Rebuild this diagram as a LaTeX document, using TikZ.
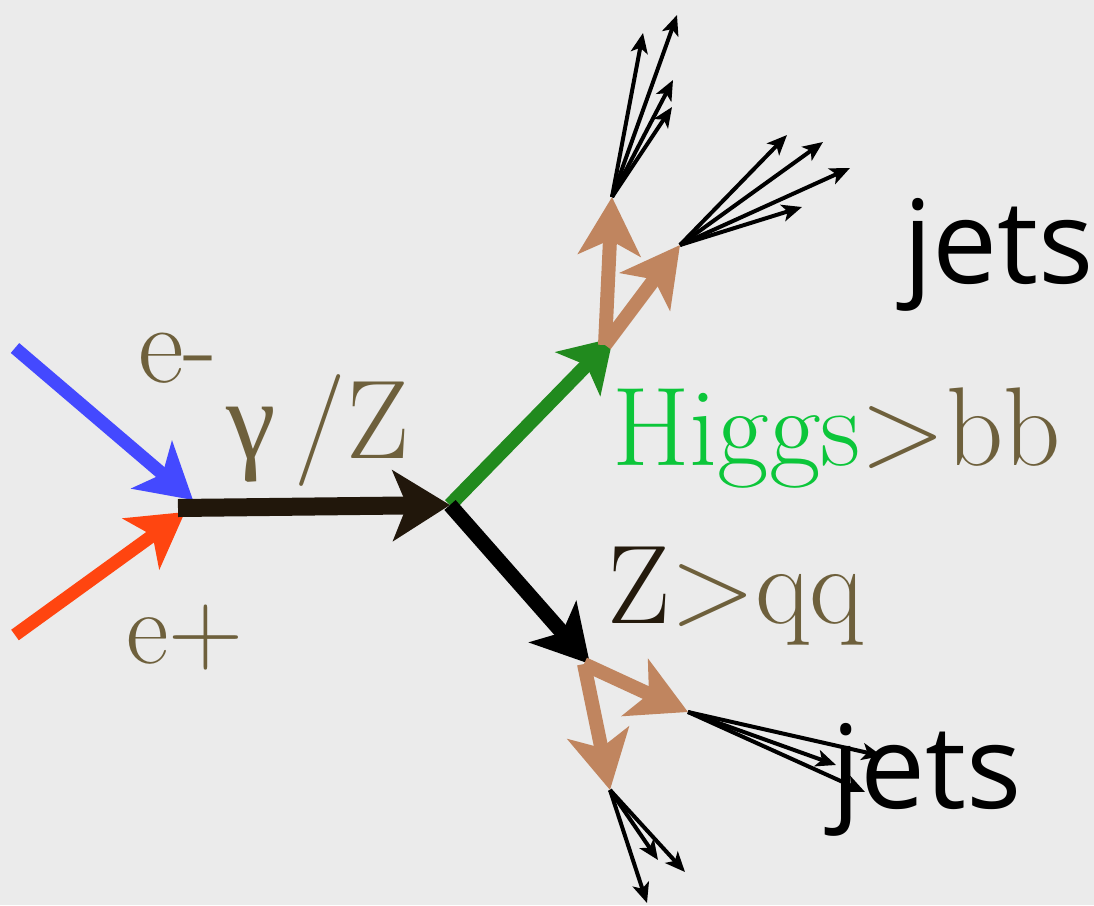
\documentclass[tikz,border=0pt]{standalone}
\usepackage{fontspec}
\usetikzlibrary{arrows.meta,calc}
\newfontfamily\greekfont{Liberation Serif}
\newfontfamily\handfont{Open Sans}
\definecolor{bgc}{RGB}{235,235,235}
\definecolor{olive}{RGB}{110,96,60}
\definecolor{zdark}{RGB}{36,26,12}
\definecolor{higgsg}{RGB}{12,198,58}
\definecolor{arrg}{RGB}{33,138,30}
\definecolor{tan}{RGB}{192,133,95}
\definecolor{eblue}{RGB}{68,73,255}
\definecolor{ered}{RGB}{255,69,16}
\definecolor{mainblk}{RGB}{33,23,11}
\tikzset{
  lbl/.style={inner sep=0pt, anchor=base west, font=\fontsize{112}{116}\selectfont},
  jetlbl/.style={inner sep=0pt, anchor=base west, font=\handfont\fontsize{116}{120}\selectfont},
  inarrow/.style={line width=13pt, -{Stealth[length=54pt,width=62pt,inset=14pt]}},
  photon/.style={line width=18pt, color=mainblk, -{Stealth[length=57pt,width=70pt,inset=14pt]}},
  higgsarr/.style={line width=14pt, color=arrg, -{Stealth[length=50pt,width=62pt,inset=12pt]}},
  zarr/.style={line width=15pt, color=black, -{Stealth[length=56pt,width=62pt,inset=14pt]}},
  quark/.style={line width=14pt, color=tan, -{Stealth[length=58pt,width=62pt,inset=15pt]}},
  jet/.style={line width=4pt, color=black, -{Stealth[length=20pt,width=17pt,inset=5pt]}}
}
\begin{document}
\begin{tikzpicture}[x=1pt,y=-1pt]
\useasboundingbox (0,0) rectangle (1094,905);
\fill[bgc] (0,0) rectangle (1094,905);
% vertices
\coordinate (eminus) at (15,348);
\coordinate (eplus) at (15,635);
\coordinate (ann) at (178,508);
\coordinate (vz) at (450,505);
\coordinate (hv) at (605,345);
\coordinate (zv) at (584,664);
\coordinate (b1) at (612,197);
\coordinate (b2) at (680,245);
\coordinate (q1) at (688,712);
\coordinate (q2) at (610,790);
% jet tips
\coordinate (ja1) at (643,33);
\coordinate (ja2) at (677,15);
\coordinate (ja3) at (673,80);
\coordinate (ja4) at (672,107);
\coordinate (jb1) at (787,135);
\coordinate (jb2) at (823,142);
\coordinate (jb3) at (850,168);
\coordinate (jb4) at (802,207);
\coordinate (jc1) at (882,756);
\coordinate (jc2) at (836,765);
\coordinate (jc3) at (865,792);
\coordinate (jd1) at (658,860);
\coordinate (jd2) at (685,872);
\coordinate (jd3) at (647,903);
% incoming
\draw[inarrow, eblue] (eminus) -- ($(ann)+(15,-8)$);
\draw[inarrow, ered] (eplus) -- ($(ann)+(7,4)$);
\draw[photon] (ann) -- (vz);
\draw[higgsarr] (vz) -- ($(hv)+(8,-7)$);
\draw[zarr] (vz) -- ($(zv)+(6,0)$);
% quarks
\draw[quark] (hv) -- (b1);
\draw[quark] (hv) -- (b2);
\draw[quark] (zv) -- (q1);
\draw[quark] (zv) -- (q2);
% jets
\foreach \t in {ja1,ja2,ja3,ja4} \draw[jet] (b1) -- (\t);
\foreach \t in {jb1,jb2,jb3,jb4} \draw[jet] (b2) -- (\t);
\foreach \t in {jc1,jc2,jc3} \draw[jet] (q1) -- (\t);
\foreach \t in {jd1,jd2,jd3} \draw[jet] (q2) -- (\t);
% labels
\node[lbl, text=olive] (lem) at (138,382) {e-};
\node[lbl, text=olive, anchor=base] (lgz) at (318,458) {{\greekfont γ}\,/Z};
\node[lbl] (lh) at (612,465) {\textcolor{higgsg}{Higgs}\textcolor{olive}{>bb}};
\node[lbl] (lz) at (607,623) {\textcolor{zdark}{Z}\textcolor{olive}{>qq}};
\node[lbl, text=olive, font=\fontsize{104}{110}\selectfont] (lep) at (126,663) {e+};
\node[jetlbl] (j1) at (903,283) {jets};
\node[jetlbl] (j2) at (831,808) {jets};
\end{tikzpicture}
\end{document}
